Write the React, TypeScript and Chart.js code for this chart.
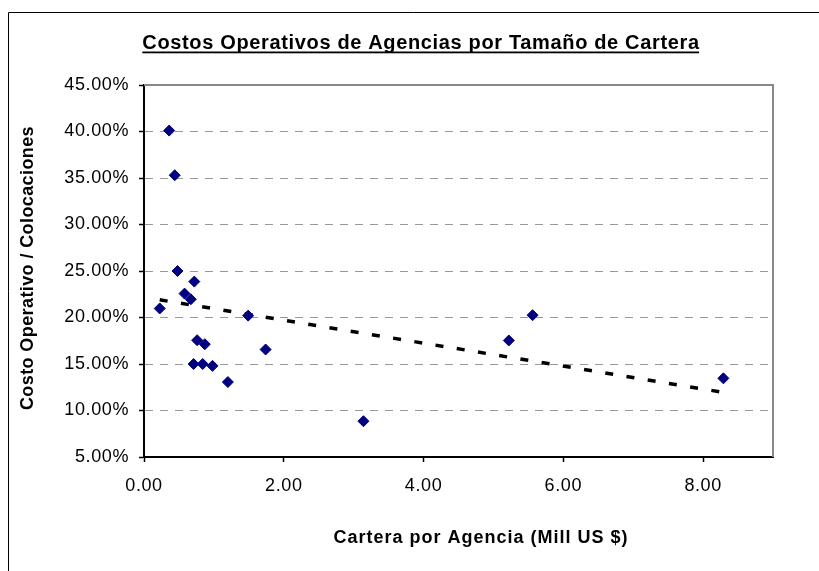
import React, { useEffect, useRef } from 'react';
import { Chart, registerables } from 'chart.js';

Chart.register(...registerables);

const FONT = '"Liberation Sans", Arial, Helvetica, sans-serif';

const TITLE = 'Costos Operativos de Agencias por Tamaño de Cartera';
const X_TITLE = 'Cartera por Agencia (Mill US $)';
const Y_TITLE = 'Costo Operativo / Colocaciones';

// Cartera por agencia (Mill US $)
const carteraX = [0.36, 0.44, 0.48, 0.72, 0.58, 0.67, 0.225, 1.49, 0.76, 0.87, 0.71, 0.84, 0.98, 1.2, 1.74, 3.14, 5.56, 5.22, 8.29];
// Costo operativo / colocaciones (%)
const costoY = [40.1, 35.3, 25.0, 23.86, 22.57, 21.96, 20.97, 20.2, 17.56, 17.13, 15.0, 15.0, 14.8, 13.06, 16.56, 8.85, 20.25, 17.53, 13.46];

// Linear trend line (end points)
const trendX = [0.225, 8.29];
const trendY = [21.9, 11.95];

const xTicks = [0, 2, 4, 6, 8];
const yTicks = [5, 10, 15, 20, 25, 30, 35, 40, 45];

const decor = {
  id: 'decor',
  beforeDraw(chart: any) {
    chart.ctx.letterSpacing = '0.6px';
  },
  afterDraw(chart: any) {
    const ctx = chart.ctx;
    const a = chart.chartArea;
    ctx.save();
    // outer frame
    ctx.strokeStyle = '#000';
    ctx.lineWidth = 1;
    ctx.beginPath();
    ctx.moveTo(8.5, 571);
    ctx.lineTo(8.5, 12.5);
    ctx.lineTo(819, 12.5);
    ctx.stroke();
    // plot area top / right border
    ctx.strokeStyle = '#888';
    ctx.lineWidth = 2;
    ctx.beginPath();
    ctx.moveTo(a.left, a.top);
    ctx.lineTo(a.right, a.top);
    ctx.lineTo(a.right, a.bottom);
    ctx.stroke();

    ctx.fillStyle = '#000';
    ctx.textBaseline = 'alphabetic';
    // title
    ctx.font = `bold 20px ${FONT}`;
    ctx.letterSpacing = '0.65px';
    ctx.textAlign = 'left';
    const tw = ctx.measureText(TITLE).width;
    const tx = 421 - tw / 2;
    ctx.fillText(TITLE, tx, 48.5);
    ctx.fillRect(tx, 51.5, tw - 0.65, 1.8);

    // x axis title
    ctx.font = `bold 18px ${FONT}`;
    ctx.letterSpacing = '1px';
    ctx.textAlign = 'center';
    ctx.fillText(X_TITLE, 481, 543);

    // y axis title
    ctx.font = `bold 18px ${FONT}`;
    ctx.letterSpacing = '0.4px';
    ctx.translate(33, 268);
    ctx.rotate(-Math.PI / 2);
    ctx.textAlign = 'center';
    ctx.fillText(Y_TITLE, 0, 0);
    ctx.restore();
    ctx.letterSpacing = '0px';
  },
};

export default function App() {
  const ref = useRef<HTMLCanvasElement>(null);

  useEffect(() => {
    if (!ref.current) return;
    const chart = new Chart(ref.current, {
      type: 'scatter',
      data: {
        datasets: [
          {
            label: 'Agencias',
            data: carteraX.map((x, i) => ({ x, y: costoY[i] })),
            pointStyle: 'rectRot',
            pointRadius: 5.5,
            backgroundColor: '#000080',
            borderColor: '#000080',
            borderWidth: 1,
            showLine: false,
          },
          {
            label: 'Tendencia',
            data: trendX.map((x, i) => ({ x, y: trendY[i] })),
            showLine: true,
            borderColor: '#000',
            borderWidth: 3.5,
            borderDash: [8, 13.5],
            pointRadius: 0,
            fill: false,
          } as any,
        ],
      },
      options: {
        animation: false,
        responsive: false,
        layout: { padding: { top: 85, right: 46, left: 0, bottom: 0 } },
        plugins: {
          legend: { display: false },
          title: { display: false },
          tooltip: { enabled: false },
        },
        scales: {
          x: {
            type: 'linear',
            min: 0,
            max: 9,
            afterBuildTicks: (s: any) => {
              s.ticks = xTicks.map((v) => ({ value: v }));
            },
            afterFit: (s: any) => {
              s.height = 114;
            },
            ticks: {
              callback: (v: any) => Number(v).toFixed(2),
              font: { family: FONT, size: 18 },
              color: '#000',
              padding: 13,
              maxRotation: 0,
              autoSkip: false,
            },
            grid: {
              drawOnChartArea: false,
              drawTicks: true,
              tickLength: 5,
              tickColor: '#000',
              tickWidth: 1.5,
            },
            border: { color: '#000', width: 2 },
          },
          y: {
            type: 'linear',
            min: 5,
            max: 45,
            afterBuildTicks: (s: any) => {
              s.ticks = yTicks.map((v) => ({ value: v }));
            },
            afterFit: (s: any) => {
              s.width = 144;
            },
            ticks: {
              callback: (v: any) => Number(v).toFixed(2) + '%',
              font: { family: FONT, size: 18 },
              color: '#000',
              padding: 10,
              autoSkip: false,
            },
            grid: {
              color: '#999',
              lineWidth: 1,
              drawTicks: true,
              tickLength: 5,
              tickColor: '#000',
              tickWidth: 1.5,
              tickBorderDash: [],
            },
            border: { color: '#000', width: 2, dash: [8, 7] },
          },
        },
      },
      plugins: [decor],
    });
    return () => chart.destroy();
  }, []);

  return (
    <div style={{ position: 'absolute', left: 0, top: 0, width: 819, height: 571, overflow: 'hidden', background: '#fff' }}>
      <canvas ref={ref} width={819} height={571} style={{ display: 'block' }} />
    </div>
  );
}
